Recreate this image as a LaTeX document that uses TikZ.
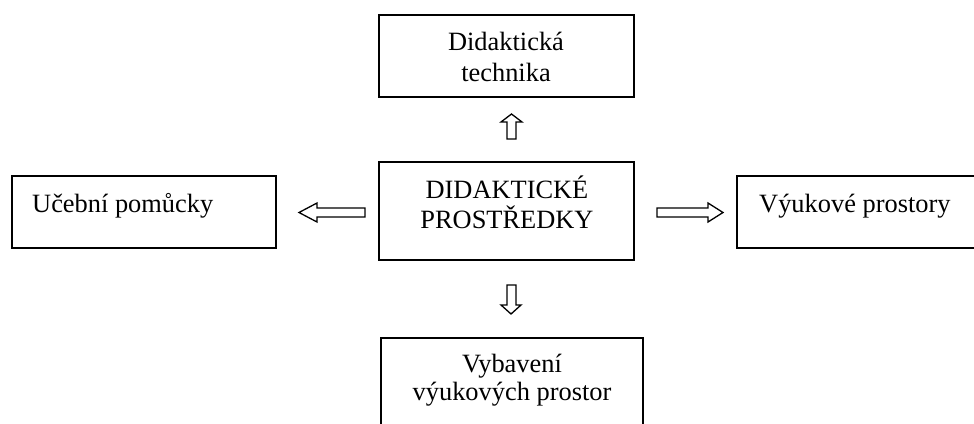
\documentclass[tikz,border=0pt]{standalone}
\usepackage{fontspec}
\setmainfont{Liberation Serif}
\begin{document}
\begin{tikzpicture}[x=1pt,y=-1pt,
  box/.style={draw=black,line width=1.6pt},
  lbl/.style={anchor=base,inner sep=0pt,font=\fontsize{26.4}{30}\selectfont},
  blockarrow/.style={draw=black,line width=1.3pt,fill=white,line join=miter}]
\useasboundingbox (0,0) rectangle (974,423);
\clip (0,0) rectangle (974,423);
% boxes
\draw[box] (379,15) rectangle (634,97);
\draw[box] (379,162) rectangle (634,260);
\draw[box] (12,176) rectangle (276,248);
\draw[box] (737,176) rectangle (990,248);
\draw[box] (381,338) rectangle (643,440);
% texts
\node[lbl] (t1) at (506,50) {Didaktická};
\node[lbl] (t2) at (506,81) {technika};
\node[lbl] (c1) at (507,198) {DIDAKTICKÉ};
\node[lbl] (c2) at (507,228) {PROSTŘEDKY};
\node[lbl,anchor=base west] (l1) at (32,212) {Učební pomůcky};
\node[lbl,anchor=base west] (r1) at (759,212) {Výukové prostory};
\node[lbl] (b1) at (512,372) {Vybavení};
\node[lbl] (b2) at (512,400) {výukových prostor};
% block arrows
\draw[blockarrow] (511.5,114) -- (522,122) -- (516,122) -- (516,139) -- (507,139) -- (507,122) -- (501,122) -- cycle;
\draw[blockarrow] (511,314) -- (521,305) -- (516,305) -- (516,285) -- (507,285) -- (507,305) -- (501,305) -- cycle;
\draw[blockarrow] (299,212.5) -- (317,203) -- (317,208) -- (365,208) -- (365,217) -- (317,217) -- (317,222) -- cycle;
\draw[blockarrow] (723,212.5) -- (708,203) -- (708,208) -- (657,208) -- (657,217) -- (708,217) -- (708,222) -- cycle;
\end{tikzpicture}
\end{document}
